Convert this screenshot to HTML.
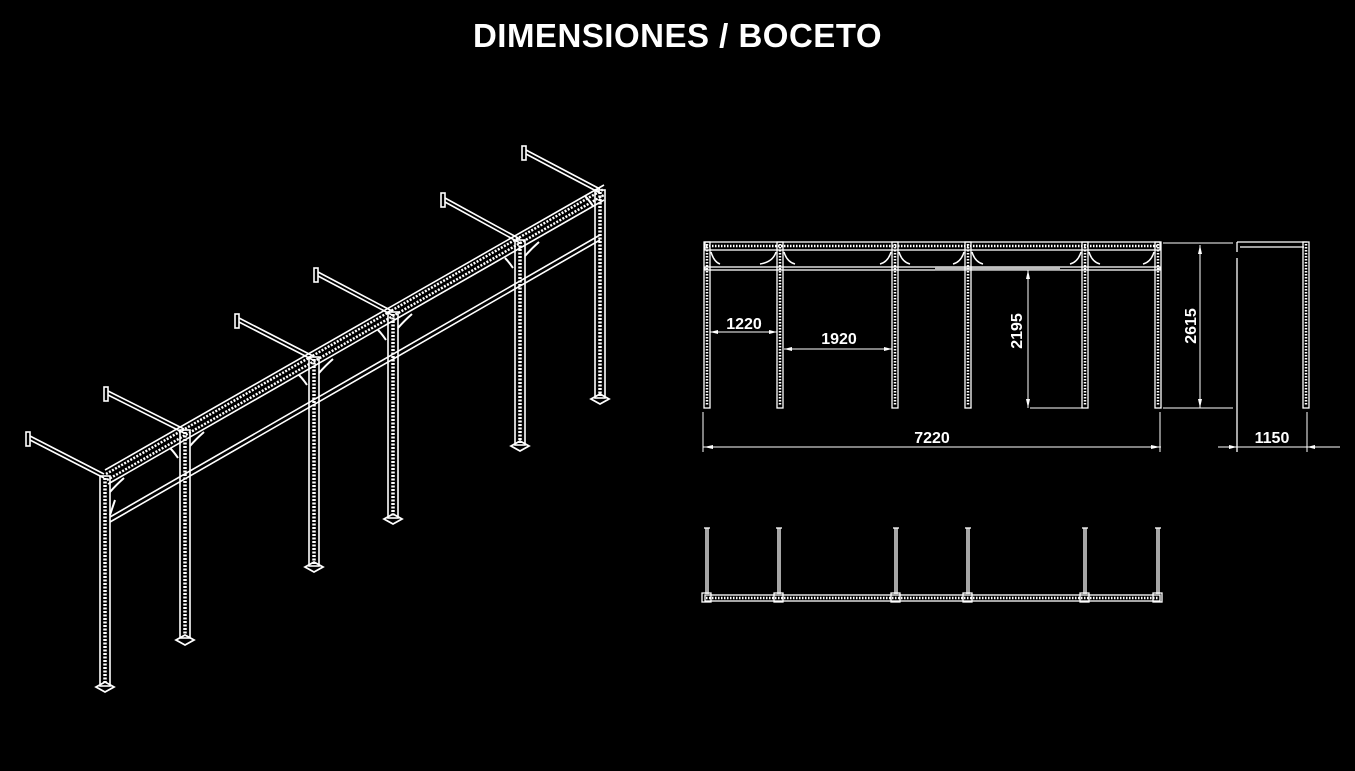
<!DOCTYPE html>
<html><head><meta charset="utf-8"><style>
html,body{margin:0;padding:0;background:#000;width:1355px;height:771px;overflow:hidden}
h1{position:absolute;left:0;width:1355px;top:17px;margin:0;text-align:center;color:#fff;font:bold 33px "Liberation Sans",sans-serif;letter-spacing:0.5px}
svg{position:absolute;left:0;top:0}
</style></head><body>
<h1>DIMENSIONES / BOCETO</h1>
<svg width="1355" height="771" viewBox="0 0 1355 771" fill="none" stroke="#fff" font-family="Liberation Sans, sans-serif">
<!-- ISO VIEW -->
<g stroke-width="1.6">
<g>
<line x1="104" y1="474" x2="30" y2="436"/><line x1="104" y1="478" x2="30" y2="440"/>
<line x1="184" y1="429" x2="108" y2="391"/><line x1="184" y1="433" x2="108" y2="395"/>
<line x1="313" y1="356" x2="239" y2="318"/><line x1="313" y1="360" x2="239" y2="322"/>
<line x1="392" y1="311" x2="318" y2="272"/><line x1="392" y1="315" x2="318" y2="276"/>
<line x1="520" y1="239" x2="445" y2="198"/><line x1="520" y1="243" x2="445" y2="202"/>
<line x1="600" y1="189" x2="526" y2="150"/><line x1="600" y1="193" x2="526" y2="154"/>
<rect x="26" y="432" width="4" height="14"/><rect x="104" y="387" width="4" height="14"/>
<rect x="235" y="314" width="4" height="14"/><rect x="314" y="268" width="4" height="14"/>
<rect x="441" y="193" width="4" height="14"/><rect x="522" y="146" width="4" height="14"/>
</g>
<line x1="105" y1="470" x2="604" y2="185"/><line x1="108" y1="484" x2="604" y2="200"/>
<line x1="106" y1="474" x2="604" y2="189" stroke-dasharray="2,1.5" stroke-width="2.5"/>
<line x1="107" y1="480" x2="604" y2="195" stroke-dasharray="2,1.5" stroke-width="2.5"/>
<line x1="110" y1="517" x2="600" y2="235"/><line x1="110" y1="522" x2="600" y2="240"/>
<g>
<rect x="100" y="476" width="10" height="210"/><line x1="105" y1="478" x2="105" y2="684" stroke-dasharray="2,1.5" stroke-width="3.5"/>
<rect x="180" y="430" width="10" height="208"/><line x1="185" y1="432" x2="185" y2="636" stroke-dasharray="2,1.5" stroke-width="3.5"/>
<rect x="309" y="357" width="10" height="209"/><line x1="314" y1="359" x2="314" y2="564" stroke-dasharray="2,1.5" stroke-width="3.5"/>
<rect x="388" y="312" width="10" height="206"/><line x1="393" y1="314" x2="393" y2="516" stroke-dasharray="2,1.5" stroke-width="3.5"/>
<rect x="515" y="240" width="10" height="205"/><line x1="520" y1="242" x2="520" y2="443" stroke-dasharray="2,1.5" stroke-width="3.5"/>
<rect x="595" y="190" width="10" height="208"/><line x1="600" y1="192" x2="600" y2="396" stroke-dasharray="2,1.5" stroke-width="3.5"/>
</g>
<g stroke-width="1.8">
<polygon points="96,687 105,682 114,687 105,692"/>
<polygon points="176,640 185,635 194,640 185,645"/>
<polygon points="305,567 314,562 323,567 314,572"/>
<polygon points="384,519 393,514 402,519 393,524"/>
<polygon points="511,446 520,441 529,446 520,451"/>
<polygon points="591,399 600,394 609,399 600,404"/>
</g>
<g stroke-width="2">
<path d="M110 492 Q116 485 124 478"/><path d="M110 515 Q113 506 115 500"/>
<path d="M190 446 Q196 439 204 432"/><path d="M178 458 Q174 452 170 448"/>
<path d="M319 373 Q325 366 333 359"/><path d="M307 385 Q303 379 299 375"/>
<path d="M398 328 Q404 321 412 314"/><path d="M386 340 Q382 334 378 330"/>
<path d="M525 256 Q531 249 539 242"/><path d="M513 268 Q509 262 505 258"/>
<path d="M593 206 Q589 200 585 196"/>
</g>
</g>

<!-- FRONT VIEW -->
<g stroke-width="1.3">
<rect x="705" y="242" width="455" height="8"/>
<line x1="706" y1="246" x2="1159" y2="246" stroke-dasharray="1.5,1.5" stroke-width="2.5"/>
<rect x="705" y="267" width="455" height="3"/>
<line x1="935" y1="269" x2="1060" y2="269" stroke-width="2.5" stroke="#bbb"/>
<g>
<rect x="704" y="242" width="6" height="166"/><line x1="707" y1="244" x2="707" y2="406" stroke-dasharray="1.5,1.5" stroke-width="2.5"/>
<rect x="777" y="242" width="6" height="166"/><line x1="780" y1="244" x2="780" y2="406" stroke-dasharray="1.5,1.5" stroke-width="2.5"/>
<rect x="892" y="242" width="6" height="166"/><line x1="895" y1="244" x2="895" y2="406" stroke-dasharray="1.5,1.5" stroke-width="2.5"/>
<rect x="965" y="242" width="6" height="166"/><line x1="968" y1="244" x2="968" y2="406" stroke-dasharray="1.5,1.5" stroke-width="2.5"/>
<rect x="1082" y="242" width="6" height="166"/><line x1="1085" y1="244" x2="1085" y2="406" stroke-dasharray="1.5,1.5" stroke-width="2.5"/>
<rect x="1155" y="242" width="6" height="166"/><line x1="1158" y1="244" x2="1158" y2="406" stroke-dasharray="1.5,1.5" stroke-width="2.5"/>
</g>
<g stroke-width="1.5">
<path d="M711 252 Q714 262 720 264"/><path d="M776 252 Q773 262 760 264"/><path d="M784 252 Q787 262 795 264"/>
<path d="M891 252 Q888 262 880 264"/><path d="M899 252 Q902 262 910 264"/>
<path d="M964 252 Q961 262 953 264"/><path d="M972 252 Q975 262 983 264"/>
<path d="M1081 252 Q1078 262 1070 264"/><path d="M1089 252 Q1092 262 1100 264"/>
<path d="M1154 252 Q1151 262 1143 264"/>
</g>
<line x1="1237" y1="242" x2="1307" y2="242"/><line x1="1240" y1="247" x2="1304" y2="247"/>
<line x1="1237" y1="242" x2="1237" y2="252"/>
<line x1="1237" y1="258" x2="1237" y2="452"/>
<rect x="1303" y="242" width="6" height="166"/><line x1="1306" y1="244" x2="1306" y2="406" stroke-dasharray="1.5,1.5" stroke-width="2.5"/>
</g>
<g stroke-width="1">
<line x1="710" y1="332" x2="777" y2="332"/>
<line x1="784" y1="349" x2="892" y2="349"/>
<line x1="1028" y1="270" x2="1028" y2="408"/><line x1="1030" y1="408" x2="1085" y2="408"/>
<line x1="1200" y1="245" x2="1200" y2="408"/><line x1="1163" y1="408" x2="1233" y2="408"/><line x1="1163" y1="243" x2="1233" y2="243"/>
<line x1="703" y1="447" x2="1161" y2="447"/><line x1="703" y1="412" x2="703" y2="452"/><line x1="1160" y1="412" x2="1160" y2="452"/>
<line x1="1218" y1="447" x2="1340" y2="447"/><line x1="1307" y1="412" x2="1307" y2="452"/>
</g>
<g fill="#fff" stroke="none">
<polygon points="710,332 718,330 718,334"/><polygon points="777,332 769,330 769,334"/>
<polygon points="784,349 792,347 792,351"/><polygon points="892,349 884,347 884,351"/>
<polygon points="1028,270 1026,279 1030,279"/><polygon points="1028,408 1026,399 1030,399"/>
<polygon points="1200,245 1198,254 1202,254"/><polygon points="1200,408 1198,399 1202,399"/>
<polygon points="704,447 713,445 713,449"/><polygon points="1160,447 1151,445 1151,449"/>
<polygon points="1237,447 1229,445 1229,449"/><polygon points="1307,447 1315,445 1315,449"/>
</g>
<g fill="#fff" stroke="none" font-size="16" font-weight="bold" text-anchor="middle">
<text x="744" y="329">1220</text>
<text x="839" y="344">1920</text>
<text x="932" y="443">7220</text>
<text x="1272" y="443">1150</text>
<text transform="translate(1022,331) rotate(-90)">2195</text>
<text transform="translate(1196,326) rotate(-90)">2615</text>
</g>

<!-- TOP VIEW -->
<g stroke-width="1.3">
<rect x="705" y="595" width="455" height="6"/>
<line x1="706" y1="598" x2="1159" y2="598" stroke-dasharray="1.5,1.5" stroke-width="2.5"/>
<g>
<line x1="706" y1="528" x2="706" y2="594"/><line x1="708" y1="528" x2="708" y2="594"/><rect x="702" y="593" width="9" height="9"/><line x1="704" y1="528" x2="710" y2="528"/>
<line x1="778" y1="528" x2="778" y2="594"/><line x1="780" y1="528" x2="780" y2="594"/><rect x="774" y="593" width="9" height="9"/><line x1="776" y1="528" x2="782" y2="528"/>
<line x1="895" y1="528" x2="895" y2="594"/><line x1="897" y1="528" x2="897" y2="594"/><rect x="891" y="593" width="9" height="9"/><line x1="893" y1="528" x2="899" y2="528"/>
<line x1="967" y1="528" x2="967" y2="594"/><line x1="969" y1="528" x2="969" y2="594"/><rect x="963" y="593" width="9" height="9"/><line x1="965" y1="528" x2="971" y2="528"/>
<line x1="1084" y1="528" x2="1084" y2="594"/><line x1="1086" y1="528" x2="1086" y2="594"/><rect x="1080" y="593" width="9" height="9"/><line x1="1082" y1="528" x2="1088" y2="528"/>
<line x1="1157" y1="528" x2="1157" y2="594"/><line x1="1159" y1="528" x2="1159" y2="594"/><rect x="1153" y="593" width="9" height="9"/><line x1="1155" y1="528" x2="1161" y2="528"/>
</g>
</g>
</svg>
</body></html>
